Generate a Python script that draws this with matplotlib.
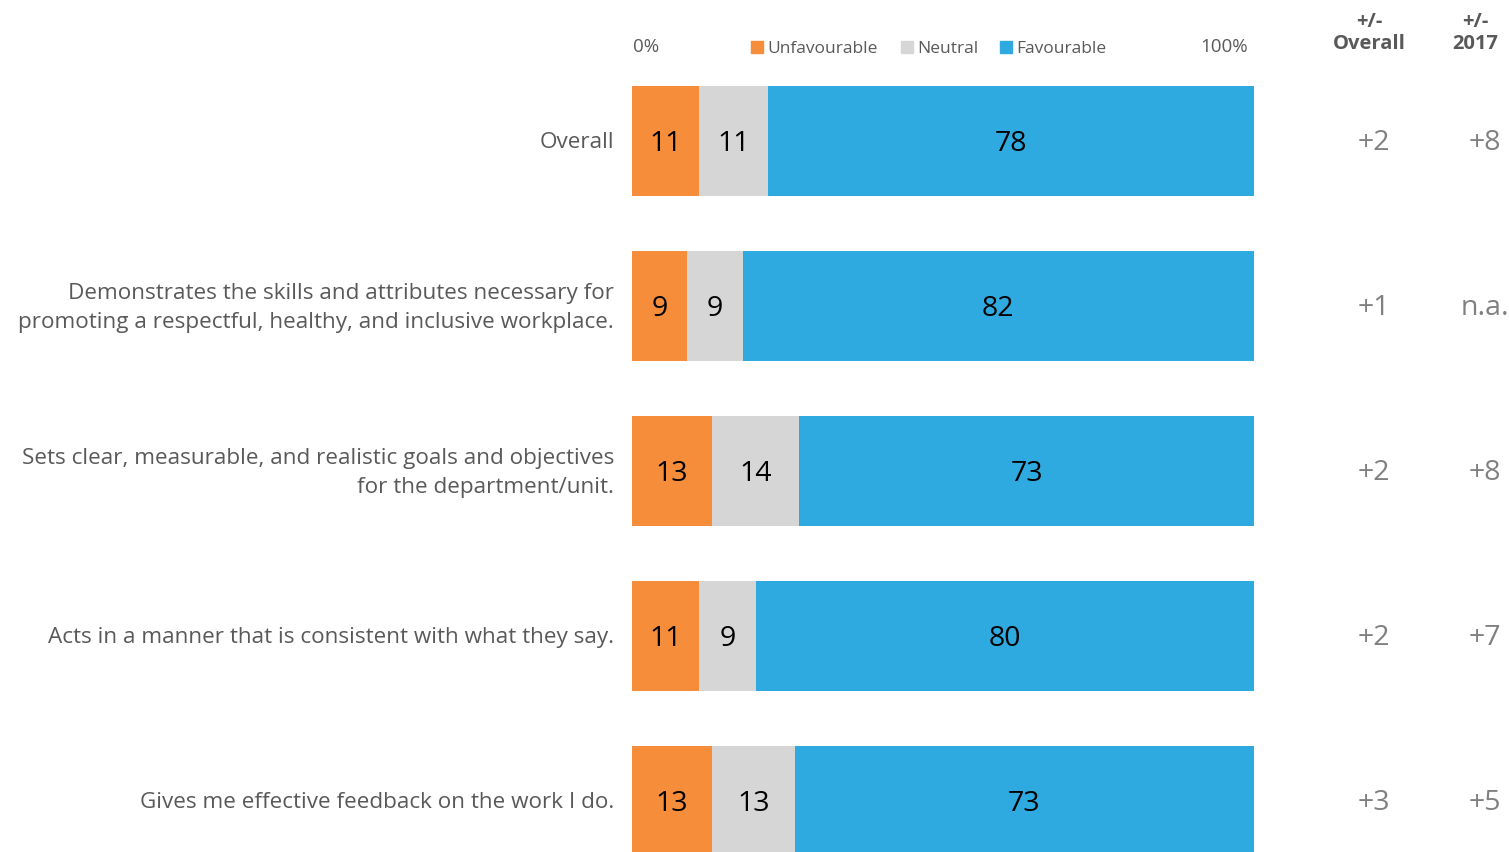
"""Stacked favourability bars with change columns."""

import matplotlib
matplotlib.use("Agg")
import matplotlib.pyplot as plt
from matplotlib.patches import Rectangle

# ---------- data ----------
questions = [
    "Overall",
    "Demonstrates the skills and attributes necessary for\npromoting a respectful, healthy, and inclusive workplace.",
    "Sets clear, measurable, and realistic goals and objectives\nfor the department/unit.",
    "Acts in a manner that is consistent with what they say.",
    "Gives me effective feedback on the work I do.",
]
# segment widths as drawn (percent)
unfavourable = [10.8, 8.8, 12.9, 10.8, 12.9]
neutral = [11.1, 9.0, 14.0, 9.2, 13.3]
favourable = [78.1, 82.2, 73.1, 80.0, 73.8]
# printed labels
unfav_labels = ["11", "9", "13", "11", "13"]
neutral_labels = ["11", "9", "14", "9", "13"]
fav_labels = ["78", "82", "73", "80", "73"]
delta_overall = ["+2", "+1", "+2", "+2", "+3"]
delta_2017 = ["+8", "n.a.", "+8", "+7", "+5"]

series_names = ["Unfavourable", "Neutral", "Favourable"]
colours = ["#F58D3B", "#D6D6D6", "#2EAAE0"]
# ---------------------------

W, H = 1509, 853
plt.rcParams["font.family"] = ["Open Sans", "DejaVu Sans"]

fig = plt.figure(figsize=(W / 100, H / 100), dpi=100)
fig.patch.set_facecolor("white")


def px(x, y):
    return x / W, 1 - y / H


row_top, row_step, bar_px = 141, 165, 110
ax = fig.add_axes([632 / W, 0, 622 / W, 1])
ax.set_xlim(0, 100)
ax.set_ylim((H - row_top - 1) / row_step, -(row_top + 1) / row_step)
ax.axis("off")

ypos = list(range(len(questions)))
left = [0] * len(questions)
for vals, labels, col in zip(
    [unfavourable, neutral, favourable],
    [unfav_labels, neutral_labels, fav_labels],
    colours,
):
    ax.barh(ypos, vals, left=left, height=bar_px / row_step, color=col,
            edgecolor="none")
    for y, l, v, lab in zip(ypos, left, vals, labels):
        ax.text(l + v / 2, y + 0.015, lab, ha="center", va="center",
                fontsize=20.5, color="black")
    left = [a + b for a, b in zip(left, vals)]

label_grey = "#595959"
delta_grey = "#808080"

for y, q, d1, d2 in zip(ypos, questions, delta_overall, delta_2017):
    cy = row_top + row_step * y + 2
    fig.text(*px(614, cy), q, ha="right", va="center", fontsize=16.2,
             color=label_grey, linespacing=1.55)
    fig.text(*px(1374, cy), d1, ha="center", va="center", fontsize=20.5,
             color=delta_grey)
    fig.text(*px(1485, cy), d2, ha="center", va="center", fontsize=20.5,
             color=delta_grey)

# axis end labels
fig.text(*px(633, 47), "0%", ha="left", va="center", fontsize=13.5,
         color=label_grey)
fig.text(*px(1248, 47), "100%", ha="right", va="center", fontsize=13.5,
         color=label_grey)

# column headers
fig.text(*px(1369, 33), "+/-\nOverall", ha="center", va="center",
         fontsize=14.5, fontweight="bold", color=label_grey, linespacing=1.15)
fig.text(*px(1475, 33), "+/-\n2017", ha="center", va="center",
         fontsize=14.5, fontweight="bold", color=label_grey, linespacing=1.15)

# legend
for name, col, x0 in zip(series_names, colours, [751, 901, 1000]):
    fig.patches.append(Rectangle(px(x0, 54), 12 / W, 12 / H,
                                 transform=fig.transFigure, color=col))
    fig.text(*px(x0 + 16, 49), name, ha="left", va="center", fontsize=12.5,
             color=label_grey)

fig.savefig("out.png", dpi=100, facecolor="white")
